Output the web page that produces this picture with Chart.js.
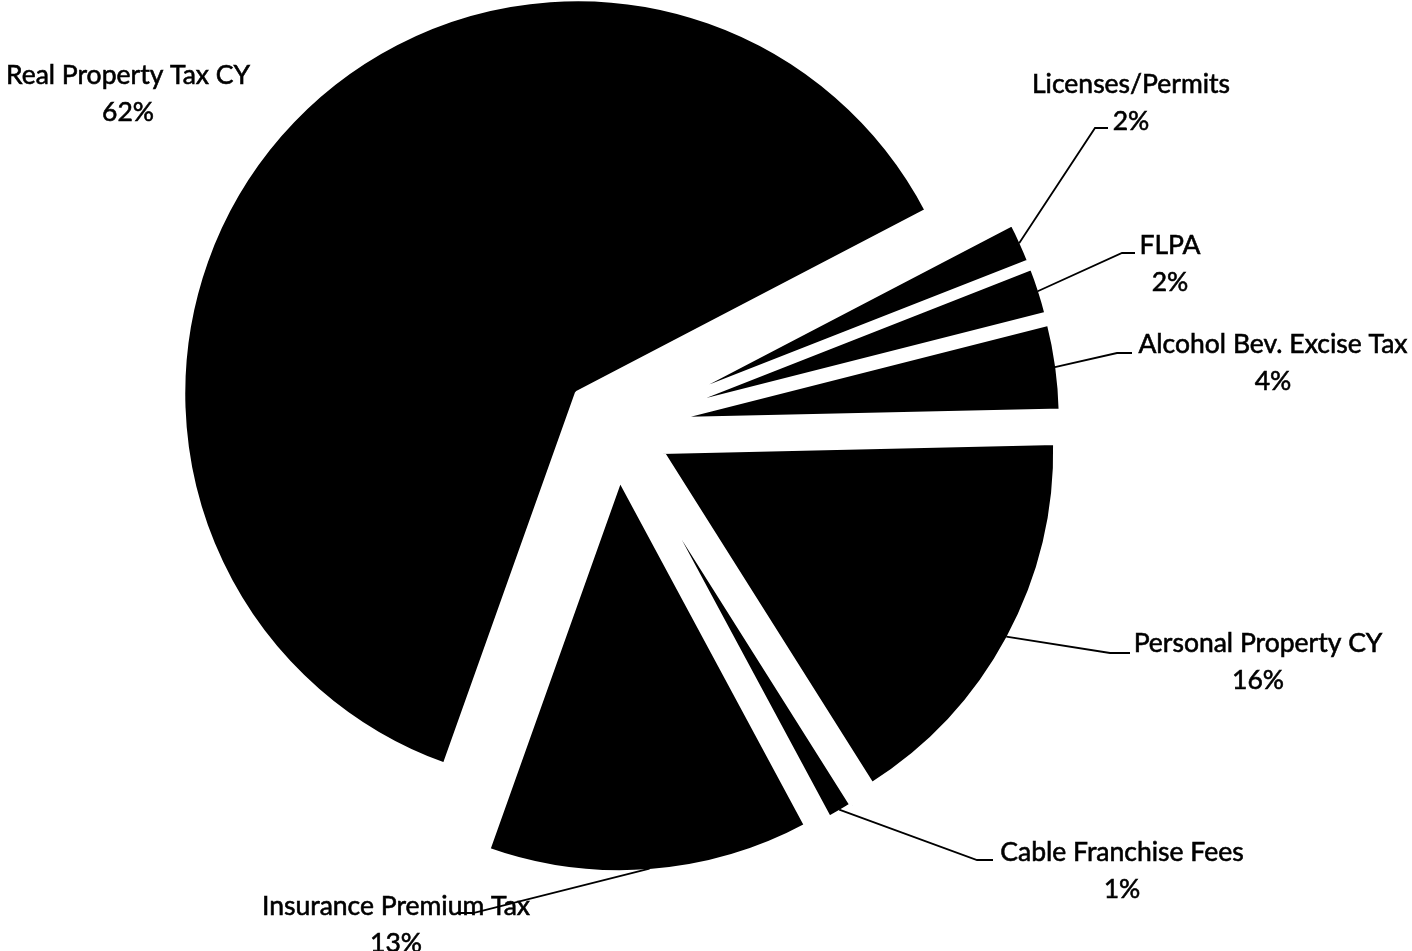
<!DOCTYPE html>
<html>
<head>
<meta charset="utf-8">
<title>Revenue by Source</title>
<script src="https://cdn.jsdelivr.net/npm/chart.js@4.4.1/dist/chart.umd.min.js"></script>
<style>
    html, body { margin: 0; padding: 0; background: #ffffff; }
    #wrap { width: 1412px; height: 951px; position: relative; }
</style>
</head>
<body>
<div id="wrap"><canvas id="revenuePie"></canvas></div>
<script>
const categories = [
    'Real Property Tax CY',
    'Licenses/Permits',
    'FLPA',
    'Alcohol Bev. Excise Tax',
    'Personal Property CY',
    'Cable Franchise Fees',
    'Insurance Premium Tax'
];
// share of revenue, percent
const shares = [61.9, 1.7, 2.0, 3.6, 16.4, 1.1, 13.3];

const PIE_RADIUS = 395;
const EXPLODE = 51;           // px each slice is pulled out from the centre
const FONT = '26.5px Lato, "Liberation Sans", sans-serif';
const LINE_GAP = 37;

// where each label sits and how its leader line runs
const labelLayout = [
    {x: 128, y: 75},
    {x: 1131, y: 84, elbow: [1095, 128], end: 1108},
    {x: 1170, y: 245, elbow: [1122, 253], end: 1135},
    {x: 1273, y: 344, elbow: [1117, 353], end: 1132},
    {x: 1258, y: 643, elbow: [1110, 653], end: 1130},
    {x: 1122, y: 852, elbow: [977, 860], end: 993},
    {x: 396, y: 906, elbow: [473, 913], end: 457}
];

const total = shares.reduce((a, b) => a + b, 0);
const pct = v => Math.round(v / total * 100) + '%';

// exploded pie: move every arc's own centre out along its middle angle
const explode = {
    id: 'explode',
    afterDatasetUpdate(chart, args) {
        const area = chart.chartArea;
        const cx = (area.left + area.right) / 2;
        const cy = (area.top + area.bottom) / 2;
        args.meta.data.forEach(arc => {
            const mid = (arc.startAngle + arc.endAngle) / 2;
            arc.x = cx + Math.cos(mid) * EXPLODE;
            arc.y = cy + Math.sin(mid) * EXPLODE;
        });
    }
};

const sliceLabels = {
    id: 'sliceLabels',
    afterDraw(chart) {
        const ctx = chart.ctx;
        const arcs = chart.getDatasetMeta(0).data;
        ctx.save();
        ctx.font = FONT;
        ctx.fillStyle = '#000';
        ctx.strokeStyle = '#000';
        ctx.lineWidth = 0.6;   // slightly heavier glyphs
        ctx.textAlign = 'center';
        ctx.textBaseline = 'middle';
        labelLayout.forEach((lab, i) => {
            const lines = [categories[i], pct(shares[i])];
            lines.forEach((t, k) => {
                ctx.fillText(t, lab.x, lab.y + k * LINE_GAP);
                ctx.strokeText(t, lab.x, lab.y + k * LINE_GAP);
            });
        });

        ctx.lineWidth = 1.8;
        labelLayout.forEach((lab, i) => {
            if (!lab.elbow) return;
            const arc = arcs[i];
            const mid = (arc.startAngle + arc.endAngle) / 2;
            const r = PIE_RADIUS - 3;
            ctx.beginPath();
            ctx.moveTo(arc.x + Math.cos(mid) * r, arc.y + Math.sin(mid) * r);
            ctx.lineTo(lab.elbow[0], lab.elbow[1]);
            ctx.lineTo(lab.end, lab.elbow[1]);
            ctx.stroke();
        });
        ctx.restore();
    }
};

new Chart(document.getElementById('revenuePie'), {
    type: 'pie',
    data: {
        labels: categories,
        datasets: [{
            data: shares,
            backgroundColor: '#000000',
            borderColor: '#ffffff',
            borderWidth: 5.5,
            hoverOffset: 0
        }]
    },
    options: {
        responsive: true,
        maintainAspectRatio: false,
        animation: false,
        events: [],
        rotation: 199.6,
        radius: PIE_RADIUS,
        layout: {padding: {left: 0, top: 0, right: 180, bottom: 97}},
        plugins: {legend: {display: false}, tooltip: {enabled: false}}
    },
    plugins: [explode, sliceLabels]
});
</script>
</body>
</html>
